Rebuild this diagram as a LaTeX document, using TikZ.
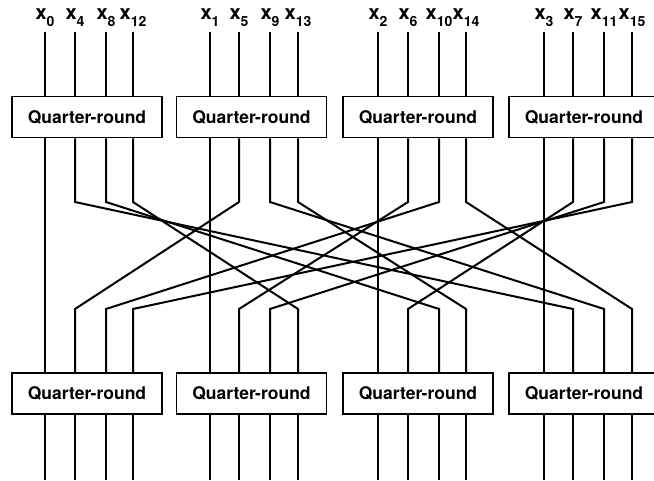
\documentclass[tikz,border=0pt]{standalone}
\usepackage{fontspec}
\setmainfont{TeX Gyre Heros}
\newcommand{\lblsub}[1]{x\raisebox{-7pt}{\fontsize{14}{14}\selectfont #1}}
\begin{document}
\begin{tikzpicture}[x=1pt,y=-1pt,
  wire/.style={line width=2pt},
  qbox/.style={draw,line width=1.2pt,minimum width=150pt,minimum height=41pt,inner sep=0pt,
    font=\fontsize{17.5}{20}\selectfont\bfseries},
  lbl/.style={anchor=base,inner sep=0pt,font=\fontsize{20}{22}\selectfont\bfseries}]
\useasboundingbox (0,0) rectangle (654,481);
% quarter-round boxes
\foreach \g/\cx in {1/87,2/251.5,3/418,4/584}{
  \node[qbox] (T\g) at (\cx,117.3) {Quarter-round};
  \node[qbox] (B\g) at (\cx,393.5) {Quarter-round};
}
% wire coordinates and labels
\foreach \g/\p/\x in {1/0/45,1/1/75,1/2/106,1/3/133,
                      2/0/210,2/1/239,2/2/270,2/3/298,
                      3/0/378,3/1/408,3/2/439,3/3/466,
                      4/0/544,4/1/573,4/2/604,4/3/632}{
  \pgfmathtruncatemacro\idx{\g-1+4*\p}
  \node[lbl] (L\g\p) at (\x,19.5) {\lblsub{\idx}};
  \coordinate (t\g\p) at (\x,32);
  \coordinate (u\g\p) at (\x,202);
  \coordinate (l\g\p) at (\x,309);
  \coordinate (e\g\p) at (\x,480);
}
% wires
\foreach \g/\p/\dg in {1/0/1,1/1/4,1/2/3,1/3/2,
                       2/0/2,2/1/1,2/2/4,2/3/3,
                       3/0/3,3/1/2,3/2/1,3/3/4,
                       4/0/4,4/1/3,4/2/2,4/3/1}{
  \draw[wire] (t\g\p) -- (t\g\p |- T\g.north);
  \draw[wire] (t\g\p |- T\g.south) -- (u\g\p) -- (l\dg\p) -- (l\dg\p |- B\dg.north);
  \draw[wire] (t\g\p |- B\g.south) -- (e\g\p);
}
\end{tikzpicture}
\end{document}
